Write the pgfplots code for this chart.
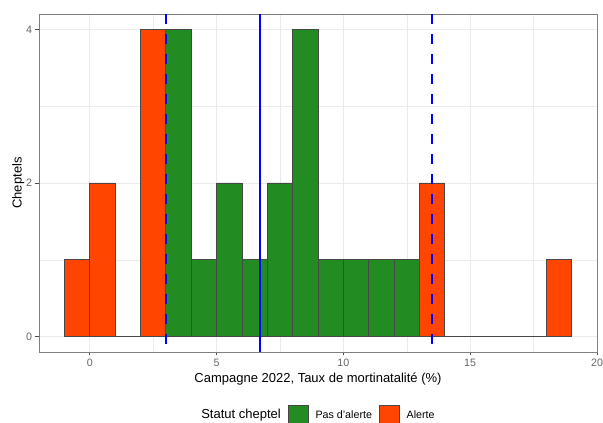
\documentclass[border=0pt]{standalone}
\usepackage{pgfplots}
\pgfplotsset{compat=1.18}
\usepackage{fontspec}
\setmainfont{Liberation Sans}
\definecolor{vert}{HTML}{228B22}
\definecolor{orangerouge}{HTML}{FF4500}
\definecolor{gridc}{HTML}{EBEBEB}
\definecolor{barline}{HTML}{474747}
\definecolor{lineblue}{HTML}{0000FF}
\begin{document}
\begin{tikzpicture}
\begin{axis}[
  scale only axis, width=558pt, height=338pt,
  xmin=-2, xmax=20, ymin=-0.2, ymax=4.2,
  xtick={0,5,10,15,20}, ytick={0,2,4},
  minor xtick={-2.5,2.5,7.5,12.5,17.5}, minor ytick={1,3},
  grid=both,
  major grid style={gridc, line width=0.9pt},
  minor grid style={gridc, line width=0.45pt},
  tick align=outside, tick pos=left,
  major tick length=3.5pt, minor tick length=0pt,
  tick style={black!70, line width=0.8pt},
  axis line style={black!50, line width=0.8pt},
  ticklabel style={font=\fontsize{10.7}{12}\selectfont, text=black!60},
  /pgf/number format/assume math mode=true,
  xlabel={Campagne 2022, Taux de mortinatalité (\%)},
  ylabel={Cheptels},
  label style={font=\fontsize{13}{15}\selectfont},
  xlabel style={at={(axis description cs:0.5,-0.0917)}, anchor=base},
  ylabel style={at={(axis description cs:-0.03136,0.5)}, anchor=base},
  legend columns=3,
  legend style={at={(0.4937,-0.1864)}, anchor=center, draw=none, fill=none,
    inner sep=0pt, font=\fontsize{10.7}{12}\selectfont, nodes={inner sep=0pt},
    /tikz/every odd column/.style={column sep=7pt},
    /tikz/every even column/.style={column sep=7pt}},
]
\coordinate (sw) at (rel axis cs:0,0);
\coordinate (ne) at (rel axis cs:1,1);
\addlegendimage{empty legend}
\addlegendentry{\fontsize{13}{15}\selectfont Statut cheptel}
\addplot[ybar interval, fill=vert, draw=barline, line width=0.7pt,
  legend image code/.code={\draw[fill=vert, draw=barline, line width=0.7pt] (0pt,-10pt) rectangle (20pt,10pt);}]
  coordinates {(-1,0)(0,0)(1,0)(2,0)(3,4)(4,1)(5,2)(6,1)(7,2)(8,4)(9,1)(10,1)(11,1)(12,1)(13,0)(14,0)(15,0)(16,0)(17,0)(18,0)(19,0)};
\addlegendentry{Pas d'alerte}
\addplot[ybar interval, fill=orangerouge, draw=barline, line width=0.7pt,
  legend image code/.code={\draw[fill=orangerouge, draw=barline, line width=0.7pt] (0pt,-10pt) rectangle (20pt,10pt);}]
  coordinates {(-1,1)(0,2)(1,0)(2,4)(3,0)(4,0)(5,0)(6,0)(7,0)(8,0)(9,0)(10,0)(11,0)(12,0)(13,2)(14,0)(15,0)(16,0)(17,0)(18,1)(19,1)};
\addlegendentry{Alerte}
\addplot[forget plot, draw=lineblue, line width=1.7pt, dash pattern=on 400pt off 1pt, mark=none] coordinates {(6.7,4.2)(6.7,-0.2)};
\addplot[forget plot, draw=lineblue, line width=2pt, dash pattern=on 10pt off 10pt, mark=none] coordinates {(3,4.2)(3,-0.2)};
\addplot[forget plot, draw=lineblue, line width=2pt, dash pattern=on 10pt off 10pt, mark=none] coordinates {(13.5,4.2)(13.5,-0.2)};
\end{axis}
\pgfresetboundingbox
\useasboundingbox ([xshift=-39pt,yshift=-71pt]sw) rectangle ([xshift=6pt,yshift=14pt]ne);
\end{tikzpicture}
\end{document}
